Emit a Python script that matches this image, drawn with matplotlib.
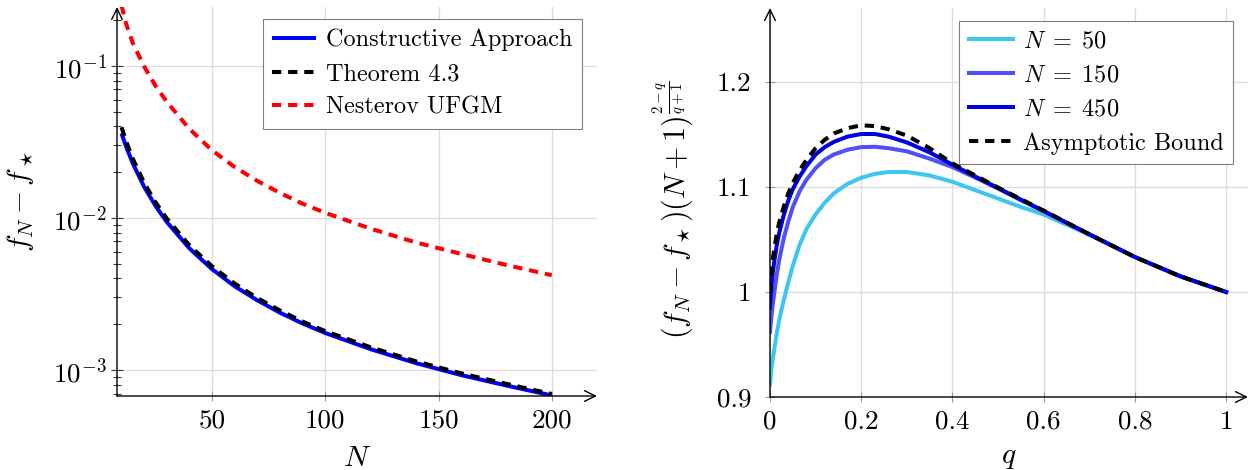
import matplotlib
matplotlib.use("Agg")
import matplotlib.pyplot as plt
from matplotlib.ticker import FixedLocator, NullFormatter, FixedFormatter

# ---------------- data ----------------
N_vals = [10, 12, 15, 20, 25, 30, 40, 50, 60, 70, 80, 90, 100, 120, 140, 160, 180, 200]
constructive = [0.036, 0.0295, 0.0228, 0.0160, 0.0120, 0.0094, 0.0063, 0.0046, 0.00355,
                0.00287, 0.00238, 0.00202, 0.00175, 0.00137, 0.00111, 0.000925, 0.00079, 0.00068]
theorem43 = [0.0395, 0.032, 0.0245, 0.0170, 0.0127, 0.0099, 0.0066, 0.0048, 0.0037,
             0.00297, 0.00246, 0.00208, 0.0018, 0.00141, 0.00114, 0.00095, 0.00081, 0.000695]
nesterov = [0.25, 0.19, 0.141, 0.099, 0.074, 0.058, 0.0385, 0.0278, 0.0216, 0.0175,
            0.0146, 0.0124, 0.0108, 0.0085, 0.0069, 0.0058, 0.0049, 0.0042]
left_labels = ["Constructive Approach", "Theorem 4.3", "Nesterov UFGM"]
left_xticks = [50, 100, 150, 200]
left_xticklabels = ["50", "100", "150", "200"]
left_yticks = [1e-3, 1e-2, 1e-1]
left_yticklabels = [r"$10^{-3}$", r"$10^{-2}$", r"$10^{-1}$"]

q_vals = [0, 0.001, 0.003, 0.006, 0.01, 0.015, 0.02, 0.03, 0.04, 0.05, 0.065, 0.08, 0.1,
          0.12, 0.14, 0.17, 0.2, 0.23, 0.26, 0.3, 0.35, 0.4, 0.45, 0.5, 0.55, 0.6, 0.7,
          0.8, 0.9, 1.0]
ratio_N50 = [0.912, 0.917, 0.926, 0.936, 0.947, 0.961, 0.973, 0.992, 1.009, 1.025, 1.045,
             1.060, 1.074, 1.085, 1.094, 1.103, 1.1088, 1.1125, 1.1143, 1.1143, 1.111,
             1.105, 1.097, 1.089, 1.081, 1.0738, 1.0545, 1.0333, 1.0149, 1.0]
ratio_N150 = [0.962, 0.967, 0.976, 0.988, 1.001, 1.017, 1.030, 1.051, 1.067, 1.081, 1.096,
              1.107, 1.118, 1.126, 1.131, 1.1355, 1.138, 1.1383, 1.137, 1.134, 1.127,
              1.119, 1.109, 1.0985, 1.0875, 1.0768, 1.055, 1.0333, 1.0149, 1.0]
ratio_N450 = [0.985, 0.993, 1.005, 1.018, 1.031, 1.045, 1.056, 1.073, 1.087, 1.098, 1.110,
              1.120, 1.131, 1.138, 1.143, 1.148, 1.1505, 1.1505, 1.148, 1.1425, 1.133,
              1.1213, 1.110, 1.099, 1.088, 1.0772, 1.055, 1.0333, 1.0149, 1.0]
ratio_bound = [1.0, 1.008, 1.019, 1.031, 1.043, 1.056, 1.066, 1.081, 1.094, 1.104, 1.116,
               1.126, 1.137, 1.145, 1.151, 1.156, 1.1588, 1.158, 1.155, 1.149, 1.137,
               1.1225, 1.111, 1.0995, 1.0885, 1.0775, 1.055, 1.0333, 1.0149, 1.0]
right_labels = [r"$N\;=\;50$", r"$N\;=\;150$", r"$N\;=\;450$", "Asymptotic Bound"]
right_xticks = [0, 0.2, 0.4, 0.6, 0.8, 1.0]
right_xticklabels = ["0", "0.2", "0.4", "0.6", "0.8", "1"]
right_yticks = [0.9, 1.0, 1.1, 1.2]
right_yticklabels = ["0.9", "1", "1.1", "1.2"]

# ---------------- style ----------------
plt.rcParams["font.family"] = "serif"
plt.rcParams["font.serif"] = ["cmr10", "DejaVu Serif"]
plt.rcParams["mathtext.fontset"] = "cm"
plt.rcParams["axes.unicode_minus"] = False
plt.rcParams["axes.formatter.use_mathtext"] = True
FS = 17.5      # legend text
TFS = 19.5     # tick labels
LFS = 21.5     # axis labels
plt.rcParams["font.size"] = FS

LW = 2.9
DASH = (2.3, 1.7)
GRID = "#dcdcdc"

fig = plt.figure(figsize=(12.59, 4.70), dpi=100)
W, H = 1259, 470
axL = fig.add_axes([117 / W, (H - 396) / H, 480 / W, 389 / H])
axR = fig.add_axes([770 / W, (H - 397) / H, 478 / W, 389 / H])


def axis_arrows(ax):
    for s in ax.spines.values():
        s.set_visible(False)
    kw = dict(xycoords="axes fraction", textcoords="axes fraction",
              arrowprops=dict(arrowstyle="->,head_length=0.45,head_width=0.22",
                              lw=1.0, color="black", shrinkA=0, shrinkB=0))
    ax.annotate("", xy=(1, 0), xytext=(0, 0), **kw)
    ax.annotate("", xy=(0, 1), xytext=(0, 0), **kw)


# ---------------- left panel ----------------
axL.set_yscale("log")
axL.set_xlim(8, 220)
axL.set_ylim(6.74e-4, 0.244)
axL.plot(N_vals, constructive, color="#0000ff", lw=LW, solid_capstyle="butt", zorder=3)
axL.plot(N_vals, theorem43, color="black", lw=LW, dashes=DASH, dash_capstyle="butt", zorder=4)
axL.plot(N_vals, nesterov, color="#ff0000", lw=LW, dashes=DASH, dash_capstyle="butt", zorder=4)
axL.xaxis.set_major_locator(FixedLocator(left_xticks))
axL.xaxis.set_major_formatter(FixedFormatter(left_xticklabels))
axL.yaxis.set_major_locator(FixedLocator(left_yticks))
axL.yaxis.set_major_formatter(FixedFormatter(left_yticklabels))
minor = [m * 10.0 ** e for e in (-4, -3, -2, -1) for m in range(2, 10)]
axL.yaxis.set_minor_locator(FixedLocator(minor))
axL.yaxis.set_minor_formatter(NullFormatter())
axL.grid(True, which="major", color=GRID, lw=0.9)
axL.set_axisbelow(True)
axL.tick_params(axis="y", which="major", direction="inout", length=8.5, width=0.8,
                color="0.25", pad=3, labelsize=TFS)
axL.tick_params(axis="y", which="minor", direction="inout", length=6, width=0.8, color="0.25")
axL.tick_params(axis="x", which="major", direction="inout", length=7, width=0.8,
                color="0.6", pad=6, labelsize=TFS)
axL.set_xlabel(r"$N$", fontsize=LFS)
axL.set_ylabel(r"$f_N - f_\star$", fontsize=LFS)
axL.xaxis.set_label_coords(0.5, -0.125)
axL.yaxis.set_label_coords(-0.168, 0.5)
axis_arrows(axL)
legL = axL.legend(left_labels, loc="upper right", bbox_to_anchor=(0.969, 0.969),
                  borderaxespad=0, fancybox=False, edgecolor="0.5", framealpha=1,
                  handlelength=1.8, handletextpad=0.4, borderpad=0.4, labelspacing=0.48,
                  fontsize=FS)
legL.get_frame().set_linewidth(0.8)

# ---------------- right panel ----------------
axR.set_xlim(0, 1.048)
axR.set_ylim(0.9, 1.2705)
axR.plot(q_vals, ratio_N50, color="#3ec6f2", lw=LW, zorder=3)
axR.plot(q_vals, ratio_N150, color="#5050f8", lw=LW, zorder=3)
axR.plot(q_vals, ratio_N450, color="#0000e0", lw=LW, zorder=3)
axR.plot(q_vals, ratio_bound, color="black", lw=LW, dashes=DASH, dash_capstyle="butt", zorder=4)
axR.xaxis.set_major_locator(FixedLocator(right_xticks))
axR.xaxis.set_major_formatter(FixedFormatter(right_xticklabels))
axR.yaxis.set_major_locator(FixedLocator(right_yticks))
axR.yaxis.set_major_formatter(FixedFormatter(right_yticklabels))
axR.grid(True, which="major", color=GRID, lw=0.9)
axR.set_axisbelow(True)
axR.tick_params(axis="both", which="major", direction="inout", length=7, width=0.8,
                color="0.6", labelsize=TFS)
axR.tick_params(axis="x", pad=6)
axR.tick_params(axis="y", pad=10)
axR.set_xlabel(r"$q$", fontsize=LFS)
axR.set_ylabel(r"$(f_N - f_\star)(N+1)^{\frac{2-q}{q+1}}$", fontsize=LFS)
axR.xaxis.set_label_coords(0.5, -0.12)
axR.yaxis.set_label_coords(-0.155, 0.48)
axis_arrows(axR)
legR = axR.legend(right_labels, loc="upper right", bbox_to_anchor=(0.9686, 0.9666),
                  borderaxespad=0, fancybox=False, edgecolor="0.5", framealpha=1,
                  handlelength=1.8, handletextpad=0.4, borderpad=0.4, labelspacing=0.48,
                  fontsize=FS)
legR.get_frame().set_linewidth(0.8)

fig.savefig("out.png", dpi=100)
